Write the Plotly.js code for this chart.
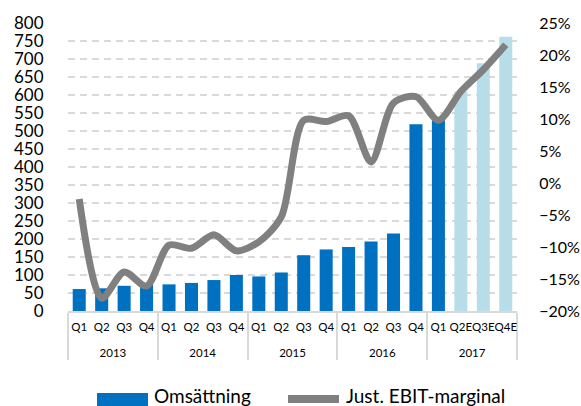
<!DOCTYPE html>
<html>
<head>
<meta charset="utf-8">
<script src="https://cdn.plot.ly/plotly-3.0.1.min.js"></script>
<style>html,body{margin:0;padding:0;background:#fff;}#chart{width:581px;height:406px;}</style>
</head>
<body>
<div id="chart"></div>
<script>
const years = ['2013','2013','2013','2013','2014','2014','2014','2014','2015','2015','2015','2015','2016','2016','2016','2016','2017','2017','2017','2017'];
const quarters = ['Q1','Q2','Q3','Q4','Q1','Q2','Q3','Q4','Q1','Q2','Q3','Q4','Q1','Q2','Q3','Q4','Q1','Q2E','Q3E','Q4E'];
const revenue = [61, 63, 70, 74, 74, 78, 86, 100, 96, 107, 155, 171, 178, 193, 215, 519, 530, 610, 688, 762];
const ebitMargin = [-0.025, -0.18, -0.139, -0.161, -0.097, -0.102, -0.081, -0.106, -0.092, -0.053, 0.098, 0.096, 0.105, 0.033, 0.125, 0.135, 0.098, 0.143, 0.177, 0.216];
const seriesNames = ['Omsättning', 'Just. EBIT-marginal'];

const DARK = '#0070C0', LIGHT = '#B7DEE8', GREY = '#808080';
const barColors = quarters.map(q => q.indexOf('E') >= 0 ? LIGHT : DARK);
// year row is drawn one line lower, as in the reference
const yearRow = years.map(y => '<br>' + y);

const W = 581, H = 406, M = {l: 68, r: 64, t: 23, b: 95};
const pw = W - M.l - M.r, ph = H - M.t - M.b;
const px = x => (x - M.l) / pw;
const py = y => (H - M.b - y) / ph;

const FONT = 'Lato, "Open Sans", sans-serif';

const traces = [
  {type: 'bar', name: seriesNames[0], x: [yearRow, quarters], y: revenue,
   marker: {color: barColors}, yaxis: 'y', hoverinfo: 'skip'},
  {type: 'scatter', mode: 'lines', name: seriesNames[1], x: [yearRow, quarters], y: ebitMargin,
   line: {color: GREY, width: 7, shape: 'spline', smoothing: 0.8}, yaxis: 'y2'}
];

const layout = {
  width: W, height: H,
  margin: M,
  paper_bgcolor: '#fff', plot_bgcolor: '#fff',
  showlegend: false,
  bargap: 0.42,
  font: {family: FONT, color: '#000'},
  xaxis: {
    type: 'multicategory',
    showline: true, linecolor: '#d9d9d9', linewidth: 2,
    showdividers: true, dividercolor: '#d9d9d9', dividerwidth: 2,
    tickfont: {family: FONT, size: 11.5, color: '#000'},
    ticklabelstandoff: 4,
    tickangle: 0, ticks: '', showgrid: false, fixedrange: true
  },
  yaxis: {
    range: [0, 800], dtick: 50, tick0: 0,
    showgrid: true, gridcolor: '#d9d9d9', gridwidth: 2, griddash: '7px,5px',
    zeroline: false, showline: false,
    ticks: 'outside', ticklen: 20, tickcolor: 'rgba(0,0,0,0)',
    tickfont: {family: FONT, size: 17, color: '#000'}
  },
  yaxis2: {
    overlaying: 'y', side: 'right',
    range: [-0.20, 0.25], dtick: 0.05, tick0: 0, tickformat: '.0%',
    showgrid: false, zeroline: false, showline: false,
    ticks: 'outside', ticklen: 18, tickcolor: 'rgba(0,0,0,0)',
    tickfont: {family: FONT, size: 16, color: '#000'}
  },
  shapes: [
    {type: 'rect', xref: 'paper', yref: 'paper', x0: px(97), x1: px(148), y0: py(412), y1: py(393),
     fillcolor: DARK, line: {width: 0}},
    {type: 'line', xref: 'paper', yref: 'paper', x0: px(288), x1: px(339), y0: py(399), y1: py(399),
     line: {color: GREY, width: 8}}
  ],
  annotations: [
    {xref: 'paper', yref: 'paper', x: px(152), y: py(395), xanchor: 'left', yanchor: 'middle',
     text: seriesNames[0], showarrow: false, font: {family: FONT, size: 19, color: '#000'}},
    {xref: 'paper', yref: 'paper', x: px(344), y: py(395), xanchor: 'left', yanchor: 'middle',
     text: seriesNames[1], showarrow: false, font: {family: FONT, size: 19, color: '#000'}}
  ]
};

Plotly.newPlot('chart', traces, layout, {displayModeBar: false, staticPlot: true});
</script>
</body>
</html>
